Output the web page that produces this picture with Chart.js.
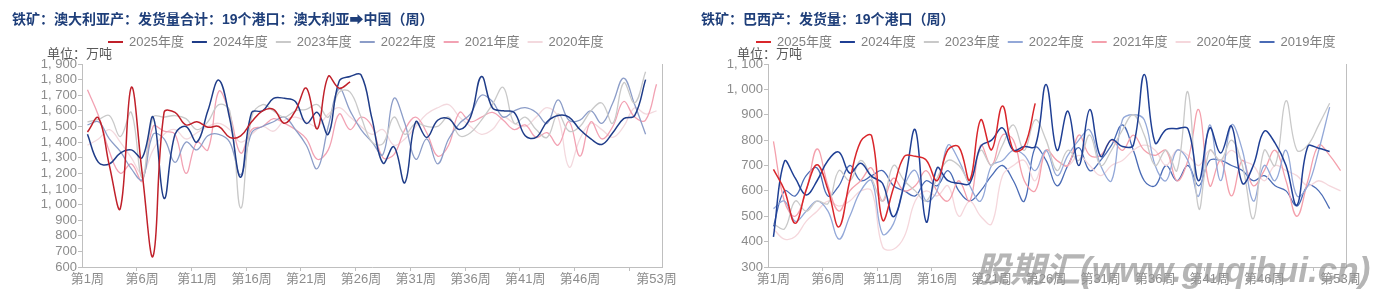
<!DOCTYPE html>
<html><head><meta charset="utf-8">
<script src="https://cdn.jsdelivr.net/npm/chart.js@4.4.1/dist/chart.umd.min.js"></script>
<style>
html,body{margin:0;padding:0;background:#fff;}
#wrap{position:relative;width:1375px;height:297px;overflow:hidden;}
canvas{position:absolute;top:0;}
</style></head><body>
<div id="wrap">
<canvas id="au" width="687" height="297" style="left:0"></canvas>
<canvas id="br" width="688" height="297" style="left:687px"></canvas>
</div>
<script>
// Categories
const weeks=[];
for(let i=1;i<=53;i++) weeks.push('第'+i+'周');

// 澳大利亚 -> 中国 (万吨)
const au2025=[1465,1555,1250,975,1750,1200,670,1590,1590,1510,1530,1495,1500,1430,1440,1530,1600,1610,1520,1600,1745,1485,1820,1745,1785];
const au2024=[1450,1270,1260,1330,1350,1300,1560,1040,1450,1500,1400,1600,1797,1550,1175,1590,1600,1680,1680,1660,1520,1590,1450,1790,1820,1830,1550,1265,1370,1140,1530,1430,1540,1550,1480,1560,1820,1620,1600,1590,1440,1430,1530,1570,1560,1480,1420,1385,1460,1550,1570,1800];
const au2023=[1530,1545,1570,1435,1590,1170,1560,1560,1570,1550,1480,1530,1640,1600,977,1560,1640,1600,1560,1600,1610,1640,1560,1720,1720,1560,1400,1390,1560,1450,1520,1500,1500,1560,1440,1460,1540,1640,1750,1520,1560,1480,1430,1580,1470,1500,1600,1650,1520,1780,1650,1850];
const au2022=[1510,1530,1420,1340,1230,1160,1450,1420,1270,1400,1350,1440,1450,1400,1190,1460,1500,1530,1560,1480,1380,1230,1500,1740,1600,1480,1400,1320,1680,1520,1290,1420,1260,1420,1520,1580,1700,1660,1560,1600,1620,1590,1520,1670,1540,1540,1600,1520,1650,1810,1640,1450];
const au2021=[1735,1570,1340,1200,1260,1150,1500,1470,1450,1200,1400,1350,1725,1580,1330,1480,1500,1550,1520,1480,1420,1290,1350,1580,1480,1560,1500,1300,1320,1480,1560,1460,1310,1380,1590,1530,1560,1590,1540,1480,1510,1430,1460,1380,1530,1310,1530,1420,1500,1660,1560,1540,1770];
const au2020=[1380,1420,1480,1400,1300,1200,1350,1450,1480,1420,1460,1500,1520,1480,1400,1450,1500,1470,1540,1560,1530,1500,1580,1620,1560,1500,1450,1480,1380,1420,1500,1580,1620,1640,1560,1500,1450,1480,1560,1520,1500,1560,1620,1560,1240,1420,1520,1480,1430,1500,1620,1580,1600];

// 巴西 19个港口 (万吨)
const br2025=[685,604,472,604,703,604,458,640,795,817,485,610,736,736,722,640,762,773,643,880,762,934,760,775,945];
const br2024=[419,716,650,584,640,720,753,670,709,657,630,498,630,841,478,690,640,630,630,775,800,848,760,775,775,1019,760,914,700,920,736,802,775,780,1059,789,841,845,845,640,848,749,855,630,700,835,788,700,544,775,768,755];
const br2023=[470,450,560,520,560,550,680,640,720,650,560,700,640,600,560,650,720,700,640,760,700,780,860,760,880,800,680,760,720,820,700,760,840,900,820,700,760,680,990,530,760,720,800,700,490,760,700,955,760,780,860,945];
const br2022=[530,560,480,520,560,520,410,500,600,640,430,470,620,680,560,600,780,720,620,560,700,720,760,740,680,760,660,740,800,840,700,640,880,900,880,700,640,760,720,580,860,640,860,760,560,700,640,760,580,620,760,930];
const br2021=[795,560,500,600,765,620,520,600,640,690,560,650,600,620,680,600,560,640,560,780,700,820,800,640,600,760,720,700,820,740,740,800,760,820,760,740,760,640,720,920,620,720,580,720,620,680,760,640,500,640,780,740,680];
const br2020=[450,410,420,480,520,560,540,560,600,600,380,370,420,560,600,580,620,500,560,500,470,660,700,720,640,760,720,700,740,700,660,700,720,760,780,760,700,760,740,700,760,720,760,720,700,640,700,680,660,620,640,620,600];
const br2019=[460,600,580,660,690,580,620,700,640,660,680,620,600,580,640,620,680,600,560,600,660,700,640,560,770,720,620,700,770,680,720,780,860,760,640,620,700,640,700,620,720,720,700,680,640,660,620,600,540,620,600,530];

const FONT="'Liberation Sans','Noto Sans CJK SC',sans-serif";
const AXIS='#bfbfbf', TICK='#8c8c8c';

// titles, legend, unit, watermark
const deco={
  id:'deco',
  afterDraw(chart,args,o){
    const ctx=chart.ctx; ctx.save();
    ctx.textBaseline='middle';
    ctx.font='bold 14px '+FONT; ctx.fillStyle='#1f3f7a';
    ctx.fillText(o.title,o.titleX,20);
    ctx.font='13px '+FONT;
    let x=o.legendX;
    chart.data.datasets.forEach(ds=>{
      ctx.strokeStyle=ds.borderColor; ctx.lineWidth=2;
      ctx.beginPath(); ctx.moveTo(x,42); ctx.lineTo(x+15,42); ctx.stroke();
      x+=21; ctx.fillStyle='#7f7f7f'; ctx.fillText(ds.label,x,42);
      x+=ctx.measureText(ds.label).width+8;
    });
    ctx.fillStyle='#595959'; ctx.fillText('单位：万吨',o.unitX,54);
    if(o.mark){
      ctx.font='italic bold 35px '+FONT; ctx.fillStyle='rgba(150,150,150,0.7)';
      ctx.textBaseline='alphabetic'; ctx.fillText(o.mark,o.markX,282);
    }
    ctx.restore();
  }
};

function makeChart(id,o){
  return new Chart(document.getElementById(id),{
    type:'line',
    data:{labels:weeks,datasets:o.series.map(s=>({label:s[0],data:s[1],borderColor:s[2],borderWidth:s[3]||1.3,pointRadius:0,tension:0.4,fill:false}))},
    options:{
      responsive:false,animation:false,devicePixelRatio:1,
      layout:{padding:{top:64,left:0,right:0,bottom:0}},
      plugins:{legend:{display:false},tooltip:{enabled:false},deco:o.deco},
      scales:{
        x:{offset:true,
          grid:{offset:true,drawOnChartArea:false,tickLength:4,color:c=>(c.index%5===0&&c.index>0&&c.index<53)?AXIS:'rgba(0,0,0,0)'},
          border:{color:AXIS},
          ticks:{autoSkip:false,maxRotation:0,minRotation:0,padding:1,color:TICK,font:{family:FONT,size:13},
            callback:(v,i)=>((i%5===0&&i<50)||i===52)?weeks[i]:''},
          afterFit:s=>{s.height=30;}},
        y:{min:o.min,max:o.max,
          ticks:{stepSize:100,autoSkip:false,padding:1,color:TICK,font:{family:FONT,size:13},callback:v=>v.toLocaleString('en-US').replace(',',', ')},
          grid:{drawOnChartArea:false,tickLength:4,color:AXIS},border:{color:AXIS},
          afterFit:s=>{s.width=o.left;}},
        y2:{position:'right',display:true,grid:{drawOnChartArea:false,drawTicks:false},ticks:{display:false},border:{color:AXIS},
          afterFit:s=>{s.width=o.right;}}
      }
    },
    plugins:[deco]
  });
}

makeChart('au',{
  min:600,max:1900,left:82,right:25,
  series:[['2025年度',au2025,'#c0202a',1.5],['2024年度',au2024,'#1f3c88',1.5],['2023年度',au2023,'#c9c9c9'],['2022年度',au2022,'#8c9dc8'],['2021年度',au2021,'#f2a2b3'],['2020年度',au2020,'#f3d9de']],
  deco:{title:'铁矿：澳大利亚产：发货量合计：19个港口：澳大利亚➡中国（周）',titleX:12,legendX:108,unitX:47}
});
makeChart('br',{
  min:300,max:1100,left:81,right:29,
  series:[['2025年度',br2025,'#d9262b',1.5],['2024年度',br2024,'#1f3f94',1.5],['2023年度',br2023,'#c9c9c9'],['2022年度',br2022,'#93a8d8'],['2021年度',br2021,'#f4a0ac'],['2020年度',br2020,'#f5d7dc'],['2019年度',br2019,'#4a6bb5']],
  deco:{title:'铁矿：巴西产：发货量：19个港口（周）',titleX:14,legendX:69,unitX:50,mark:'股期汇(www.guqihui.cn)',markX:288}
});
</script>
</body></html>
